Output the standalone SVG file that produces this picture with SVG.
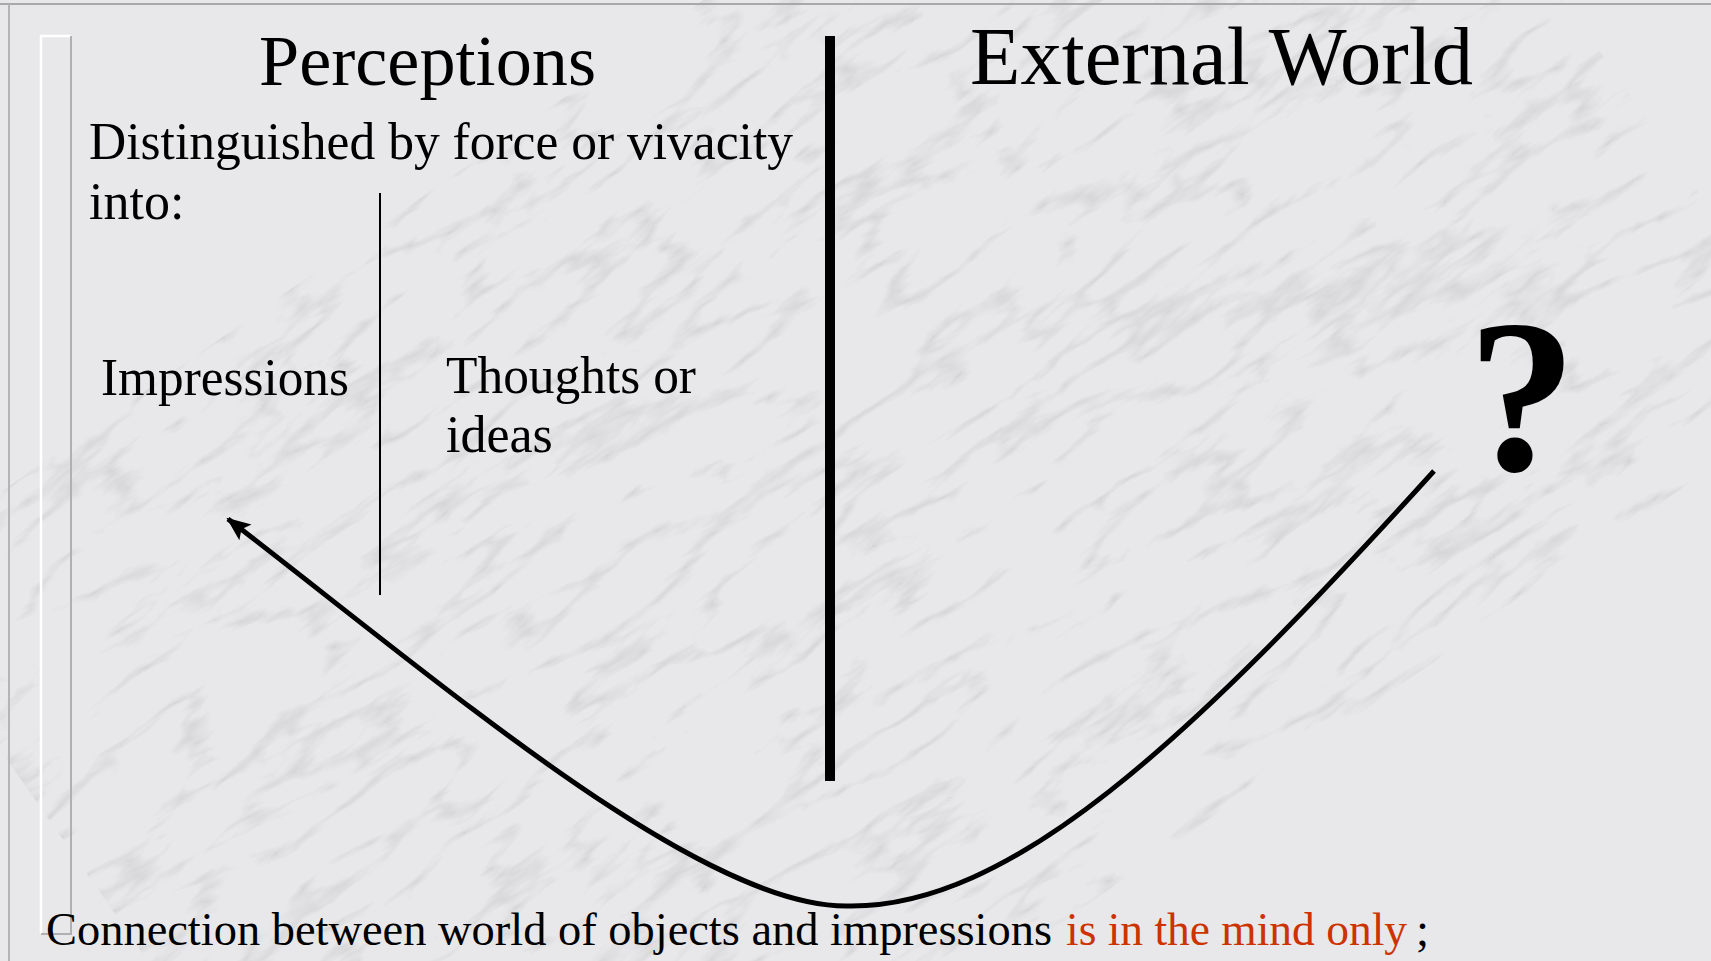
<svg xmlns="http://www.w3.org/2000/svg" width="1711" height="961" viewBox="0 0 1711 961">
  <defs>
    <style>
      .serif { font-family: "Liberation Serif", "Times New Roman", serif; fill: #000; }
      .red { fill: #cc3300; }
      .conn { fill: none; stroke: #000; stroke-width: 5; stroke-linecap: butt; }
    </style>
    <filter id="marble" x="0" y="0" width="100%" height="100%" filterUnits="userSpaceOnUse">
      <feTurbulence type="turbulence" baseFrequency="0.006 0.022" numOctaves="4" seed="7" result="t"/>
      <feColorMatrix in="t" type="matrix" values="0 0 0 0 0.45  0 0 0 0 0.45  0 0 0 0 0.47  -1.6 0 0 0 0.36"/>
    </filter>
    <marker id="arrow" markerUnits="userSpaceOnUse" markerWidth="30" markerHeight="26" refX="22" refY="11" orient="auto">
      <path d="M0,1 L24,11 L0,21 L5,11 Z" fill="#000"/>
    </marker>
  </defs>

  <!-- background -->
  <rect x="0" y="0" width="1711" height="961" fill="#e8e8ea"/>
  <g transform="rotate(-35 855 480)">
    <rect x="-600" y="-800" width="2900" height="2600" fill="#fff" filter="url(#marble)"/>
  </g>

  <!-- frame -->
  <g id="frame">
    <line x1="0" y1="4" x2="1711" y2="4" stroke="#a8a8aa" stroke-width="2"/>
    <line x1="9" y1="4" x2="9" y2="961" stroke="#b4b4b6" stroke-width="2"/>
    <path d="M41,934 L41,36 L71,36" fill="none" stroke="#ffffff" stroke-width="2.5"/>
    <path d="M41,934 L71,934 L71,36" fill="none" stroke="#b0b0b2" stroke-width="2"/>
  </g>

  <!-- dividers -->
  <g id="dividers">
    <line x1="380" y1="193" x2="380" y2="595" stroke="#000" stroke-width="2"/>
    <line x1="830" y1="36" x2="830" y2="781" stroke="#000" stroke-width="10"/>
  </g>

  <g id="title-perceptions">
    <text class="serif" x="259" y="85" font-size="72" textLength="337" lengthAdjust="spacingAndGlyphs">Perceptions</text>
  </g>
  <g id="title-external">
    <text class="serif" x="970" y="84" font-size="82" textLength="503" lengthAdjust="spacingAndGlyphs">External World</text>
  </g>
  <g id="subtitle">
    <text class="serif" x="89" y="159" font-size="52" textLength="704" lengthAdjust="spacingAndGlyphs">Distinguished by force or vivacity</text>
    <text class="serif" x="89" y="219" font-size="52">into:</text>
  </g>
  <g id="impressions">
    <text class="serif" x="101" y="395" font-size="52" textLength="248" lengthAdjust="spacingAndGlyphs">Impressions</text>
  </g>
  <g id="thoughts">
    <text class="serif" x="446" y="393" font-size="52" textLength="250" lengthAdjust="spacingAndGlyphs">Thoughts or</text>
    <text class="serif" x="446" y="452" font-size="52">ideas</text>
  </g>
  <g id="question">
    <text class="serif" x="1522" y="470" font-size="218" font-weight="bold" text-anchor="middle">?</text>
  </g>

  <g id="connectors">
    <path class="conn" marker-end="url(#arrow)" d="M1434,471 C1190,740 1010,910 846,906 C700,906 450,690 228,519"/>
  </g>

  <g id="caption">
    <text class="serif" x="46" y="945" font-size="47" textLength="1006" lengthAdjust="spacingAndGlyphs">Connection between world of objects and impressions</text>
    <text class="serif red" x="1066" y="945" font-size="47" textLength="341" lengthAdjust="spacingAndGlyphs">is in the mind only</text>
    <text class="serif" x="1416" y="945" font-size="47">;</text>
  </g>
</svg>
